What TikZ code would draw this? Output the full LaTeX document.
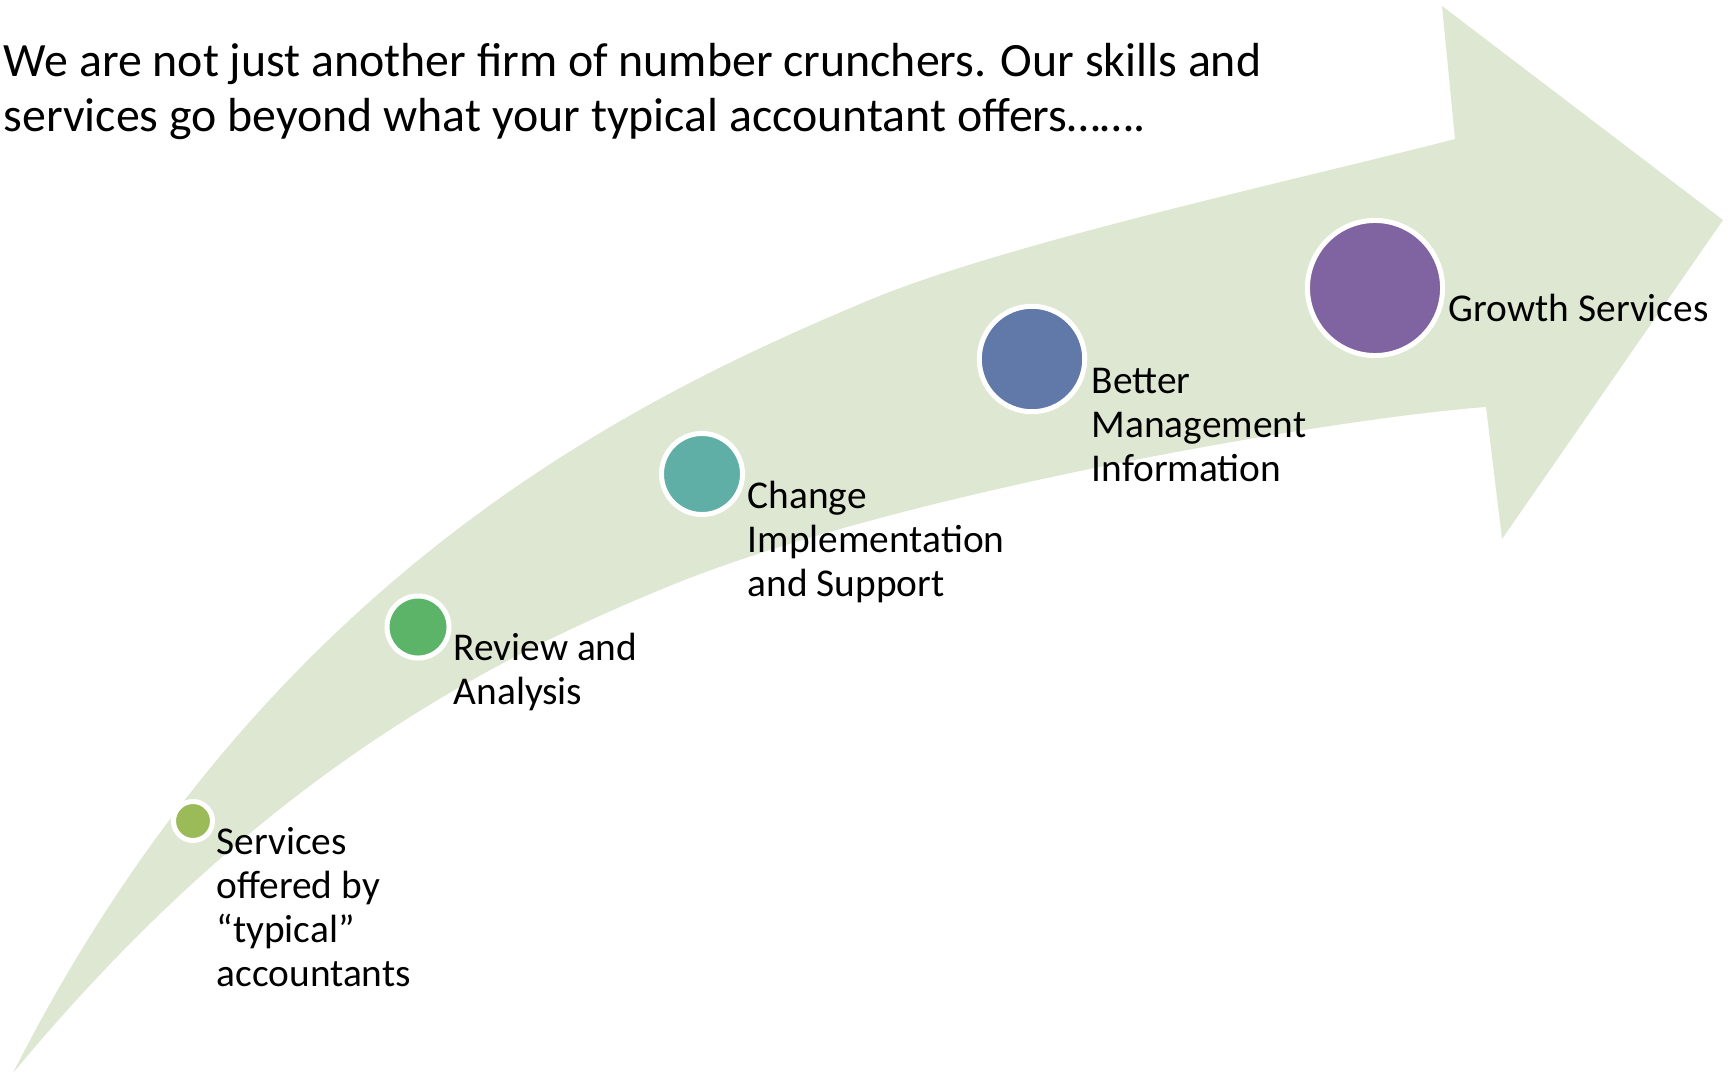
\documentclass[tikz,border=0pt]{standalone}
\usepackage{fontspec}
\setmainfont{Carlito}

\definecolor{arrowgreen}{RGB}{222,231,209}
\definecolor{stepolive}{RGB}{155,187,89}
\definecolor{stepgreen}{RGB}{92,180,104}
\definecolor{stepteal}{RGB}{95,175,166}
\definecolor{stepblue}{RGB}{96,121,168}
\definecolor{steppurple}{RGB}{128,100,162}

\begin{document}
\begin{tikzpicture}[x=0.01cm, y=-0.01cm,
  dot/.style={circle, draw=white, line width=0.05cm, inner sep=0pt},
  steplabel/.style={anchor=base west, inner sep=0pt, align=left,
    font=\fontsize{11.2pt}{12.5pt}\selectfont}]

% --- PAGE ---
\useasboundingbox (0,0) rectangle (1731,1073);

% --- CURVED ARROW ---
% upper edge, head, then lower edge back to the tail
\fill[arrowgreen] (13,1073)
  .. controls (265,575) and (636,398) .. (867,301)
  .. controls (1005,243) and (1309,177) .. (1455,139)
  -- (1442,6) -- (1723,220) -- (1502,539) -- (1486,407)
  .. controls (1336,418) and (898,492) .. (667,587)
  .. controls (482,663) and (256,780) .. (13,1073) -- cycle;

% --- STEP DOTS ---
\foreach \name/\x/\y/\r/\col in {dotA/193/821/19.5/stepolive,
    dotB/418/627/31/stepgreen, dotC/702/474/40.5/stepteal,
    dotD/1032/359/52.7/stepblue, dotE/1375/288/67.5/steppurple} {
  \node[dot, fill=\col, minimum size=\r*0.02cm] (\name) at (\x,\y) {};
}

% --- STEP LABELS (anchored on the last line) ---
\node[steplabel] (labA) at (216,986) {Services\\offered by\\“typical”\\accountants};
\node[steplabel] (labB) at (453,704) {Review and\\Analysis};
\node[steplabel] (labC) at (747,596) {Change\\Implementation\\and Support};
\node[steplabel] (labD) at (1091,481) {Better\\Management\\Information};
\node[steplabel] (labE) at (1448,321) {Growth Services};

% --- HEADLINE ---
\node[anchor=base west, inner sep=0pt, align=left,
  font=\fontsize{13.6pt}{15.65pt}\selectfont] (headline) at (3,132)
  {We are not just another firm of number crunchers. Our skills and\\
   services go beyond what your typical accountant offers…….};

\end{tikzpicture}
\end{document}
